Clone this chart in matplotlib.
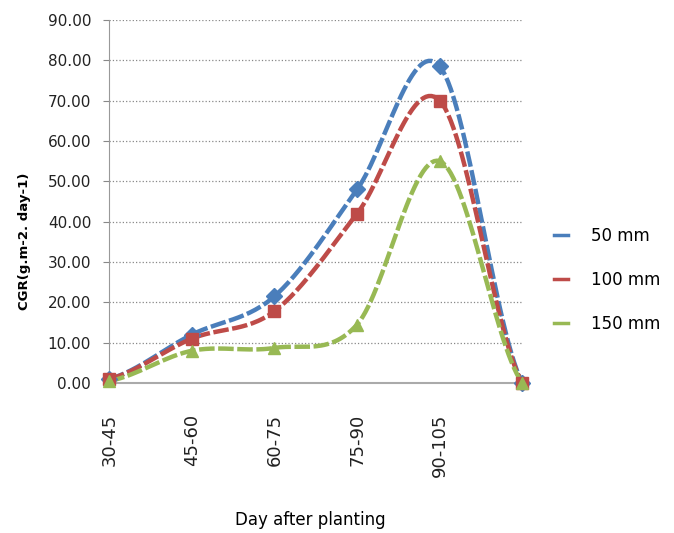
import matplotlib
matplotlib.use("Agg")
import matplotlib.pyplot as plt
import numpy as np

# data
periods = ["30-45", "45-60", "60-75", "75-90", "90-105", ""]
cgr_50 = [1.0, 12.0, 21.5, 48.0, 78.5, 0.0]
cgr_100 = [1.0, 11.0, 17.8, 42.0, 70.0, 0.0]
cgr_150 = [0.5, 8.0, 8.7, 14.5, 55.0, 0.0]
series_names = ["50 mm", "100 mm", "150 mm"]
colors = ["#4A7EBB", "#BE4B48", "#98B954"]
markers = ["D", "s", "^"]


def smooth(xs, ys, n=30):
    # Catmull-Rom curve through the points, like Excel's smoothed line
    xs = np.asarray(xs, float)
    ys = np.asarray(ys, float)
    px = np.concatenate([[2 * xs[0] - xs[1]], xs, [2 * xs[-1] - xs[-2]]])
    py = np.concatenate([[ys[0]], ys, [ys[-1]]])
    ox, oy = [], []
    t = np.linspace(0, 1, n, endpoint=False)
    for i in range(1, len(px) - 2):
        for p, out in ((px, ox), (py, oy)):
            p0, p1, p2, p3 = p[i - 1], p[i], p[i + 1], p[i + 2]
            out.extend(0.5 * (2 * p1 + (-p0 + p2) * t
                              + (2 * p0 - 5 * p1 + 4 * p2 - p3) * t ** 2
                              + (-p0 + 3 * p1 - 3 * p2 + p3) * t ** 3))
    ox.append(xs[-1])
    oy.append(ys[-1])
    return np.array(ox), np.array(oy)


fig = plt.figure(figsize=(6.74, 5.33), dpi=100)
ax = fig.add_axes([0.162, 0.2814, 0.613, 0.6811])

x = np.arange(len(periods))
handles = []
for vals, name, c, m in zip([cgr_50, cgr_100, cgr_150], series_names, colors, markers):
    sx, sy = smooth(x, vals)
    ax.plot(sx, sy, color=c, linewidth=3.2, dashes=(3.5, 0.8), clip_on=False,
            solid_capstyle="butt", zorder=3)
    ax.plot(x, vals, linestyle="none", marker=m, markersize=8, color=c,
            clip_on=False, zorder=4)
    h, = ax.plot([], [], color=c, linewidth=2.5, label=name)
    handles.append(h)

ax.set_xlim(0, 5)
ax.set_ylim(0, 90)
ax.set_yticks(np.arange(0, 91, 10))
ax.set_yticklabels([f"{v:.2f}" for v in range(0, 91, 10)], fontsize=11,
                   family="Liberation Sans Narrow", color="#222222")
ax.set_xticks(x[:-1])
ax.set_xticklabels(periods[:-1], rotation=90, fontsize=13, va="top",
                   color="#222222")
ax.tick_params(axis="x", length=0, pad=22)
ax.tick_params(axis="y", length=4, color="#888888", pad=9)

ax.grid(axis="y", linestyle=":", color="#888888", linewidth=0.9)
ax.set_axisbelow(True)
for s in ("top", "right"):
    ax.spines[s].set_visible(False)
ax.spines["left"].set_color("#999999")
ax.spines["left"].set_linestyle((0, (4, 1)))
ax.spines["bottom"].set_color("#aaaaaa")
ax.spines["bottom"].set_linewidth(1.5)

ax.set_ylabel("CGR(g.m-2. day-1)", fontsize=9.5, fontweight="bold")
ax.yaxis.set_label_coords(-0.19, 0.39)
fig.text(0.46, 0.015, "Day after planting", ha="center", fontsize=12)

fig.legend(handles=handles, loc="center left", bbox_to_anchor=(0.80, 0.475),
           frameon=False, fontsize=12, handlelength=0.8, labelspacing=1.55,
           handletextpad=1.4)

fig.savefig("out.png", dpi=100)
